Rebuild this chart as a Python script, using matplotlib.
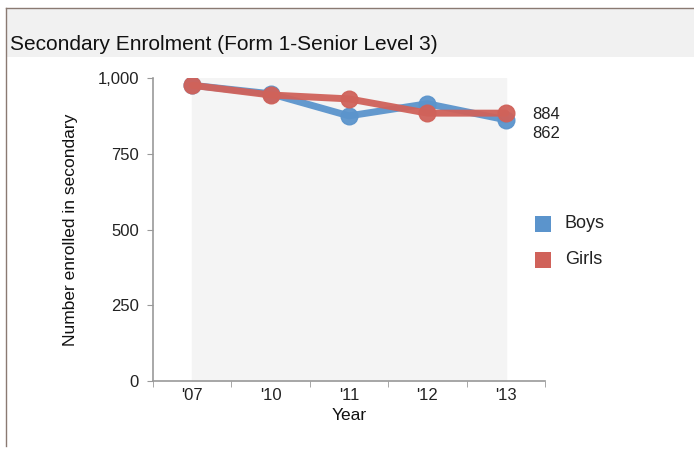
import numpy as np
import matplotlib
matplotlib.use('Agg')
import matplotlib.pyplot as plt
from matplotlib.patches import Rectangle
from matplotlib.lines import Line2D

plt.rcParams['font.family'] = ['Liberation Sans', 'DejaVu Sans']

years = ["'07", "'10", "'11", "'12", "'13"]
boys = [976, 948, 875, 915, 862]
girls = [976, 944, 931, 884, 884]

boys_col = '#5b94cc'
girls_col = '#d0625a'

fig = plt.figure(figsize=(6.94, 4.5), dpi=100)
fig.patch.set_facecolor('white')

# frame + title band
fig.add_artist(Rectangle((6/694, 1-57/450), 1, 49/450, transform=fig.transFigure,
                         facecolor='#f1f1f1', edgecolor='none', zorder=0))
fig.add_artist(Line2D([6/694, 6/694], [0.01, 1-8/450], transform=fig.transFigure, color='#8a7a72', lw=1))
fig.add_artist(Line2D([6/694, 1], [1-8/450, 1-8/450], transform=fig.transFigure, color='#8a7a72', lw=1))
fig.text(10/694, 1-44/450, 'Secondary Enrolment (Form 1-Senior Level 3)', fontsize=15,
         va='center', ha='left', color='#111111')

ax = fig.add_axes([153/694, 69/450, 392/694, 303/450])
x = np.arange(len(years))
ax.fill_between([x[0], x[-1]], 0, 1000, color='#f4f4f4', zorder=0)

ax.plot(x, boys, color=boys_col, lw=5, marker='o', ms=12, mfc=boys_col, mec=boys_col,
        alpha=0.95, solid_capstyle='round', zorder=2)
ax.plot(x, girls, color=girls_col, lw=5, marker='o', ms=12, mfc=girls_col, mec=girls_col,
        alpha=0.95, solid_capstyle='round', zorder=3)

ax.set_xlim(-0.5, len(years) - 0.5)
ax.set_ylim(0, 1000)
ax.set_yticks([0, 250, 500, 750, 1000])
ax.set_yticklabels(['0', '250', '500', '750', '1,000'])
ax.set_xticks(x)
ax.set_xticklabels(years)
ax.set_xticks(np.arange(-0.5, len(years)), minor=True)
ax.tick_params(axis='x', which='major', length=0, labelsize=12, pad=5, colors='#222222')
ax.tick_params(axis='x', which='minor', length=4, color='#999999', direction='out')
ax.tick_params(axis='y', length=4, color='#999999', labelsize=12, labelcolor='#222222', pad=6)

for s in ['top', 'right']:
    ax.spines[s].set_visible(False)
for s in ['left', 'bottom']:
    ax.spines[s].set_color('#999999')
    ax.spines[s].set_linewidth(1.2)

ax.set_xlabel('Year', fontsize=12.5, color='#111111', labelpad=4)
ax.set_ylabel('Number enrolled in secondary', fontsize=12.5, color='#111111', labelpad=14)

# end labels
ax.annotate(str(girls[-1]), (x[-1], girls[-1]), xytext=(19, -1), textcoords='offset points',
            fontsize=12, va='center', ha='left', color='#222222')
ax.annotate(str(boys[-1]), (x[-1], boys[-1]), xytext=(19, -9.5), textcoords='offset points',
            fontsize=12, va='center', ha='left', color='#222222')

# legend
fig.add_artist(Rectangle((535/694, 1-232/450), 16/694, 16/450, transform=fig.transFigure,
                         facecolor=boys_col, edgecolor='none'))
fig.add_artist(Rectangle((535/694, 1-268/450), 16/694, 16/450, transform=fig.transFigure,
                         facecolor=girls_col, edgecolor='none'))
fig.text(565/694, 1-224/450, 'Boys', fontsize=13, va='center', ha='left', color='#222222')
fig.text(565/694, 1-260/450, 'Girls', fontsize=13, va='center', ha='left', color='#222222')

fig.savefig('out.png', dpi=100)
